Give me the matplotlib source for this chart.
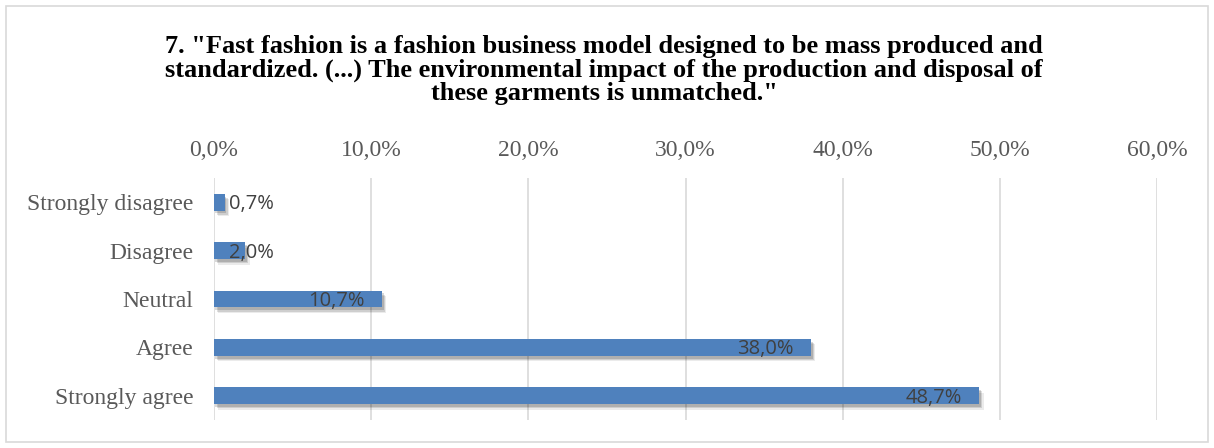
import matplotlib
matplotlib.use("Agg")
import matplotlib.pyplot as plt
import matplotlib.patheffects as pe
from matplotlib.patches import Rectangle
from matplotlib.ticker import FuncFormatter, MultipleLocator

# Survey answers, bottom to top
categories = ["Strongly agree", "Agree", "Neutral", "Disagree", "Strongly disagree"]
shares = [48.7, 38.0, 10.7, 2.0, 0.7]
title = ('7. "Fast fashion is a fashion business model designed to be mass produced and\n'
         'standardized. (...) The environmental impact of the production and disposal of\n'
         'these garments is unmatched."')

bar_color = "#4f81bd"
grid_color = "#d9d9d9"

fig = plt.figure(figsize=(12.14, 4.48), dpi=100)
fig.patch.set_facecolor("white")

# thin frame round the chart
fig.add_artist(Rectangle((6 / 1214, 6 / 448), 1202 / 1214, 436 / 448,
                         transform=fig.transFigure, fill=False,
                         edgecolor=grid_color, linewidth=1.2))

ax = fig.add_axes([214 / 1214, 1 - 420 / 448, 943 / 1214, 242 / 448])

shadow = [pe.SimplePatchShadow(offset=(3, -4), shadow_rgbFace="black", alpha=0.08),
          pe.SimplePatchShadow(offset=(2, -3), shadow_rgbFace="black", alpha=0.12),
          pe.SimplePatchShadow(offset=(1, -2), shadow_rgbFace="black", alpha=0.15),
          pe.Normal()]
bars = ax.barh(range(len(categories)), shares, height=0.35, color=bar_color,
               zorder=3)
for b in bars:
    b.set_path_effects(shadow)

ax.set_xlim(0, 60)
ax.set_ylim(-0.5, len(categories) - 0.5)
ax.xaxis.set_major_locator(MultipleLocator(10))
ax.xaxis.set_major_formatter(FuncFormatter(lambda v, _: f"{v:.1f}%".replace(".", ",")))
ax.xaxis.tick_top()
ax.set_yticks(range(len(categories)))
ax.set_yticklabels(categories)

ax.grid(axis="x", color=grid_color, linewidth=1.2, zorder=0)
for s in ax.spines.values():
    s.set_visible(False)
ax.tick_params(length=0)
ax.tick_params(axis="x", pad=12, labelsize=17, labelcolor="#595959")
ax.tick_params(axis="y", pad=15, labelsize=17, labelcolor="#595959")
for lab in ax.get_xticklabels() + ax.get_yticklabels():
    lab.set_fontfamily("Liberation Serif")

# value labels: inside the bar end, or just past the base for short bars
for i, v in enumerate(shares):
    txt = f"{v:.1f}%".replace(".", ",")
    if v < 5:
        ax.annotate(txt, (0, i), xytext=(11, -1.5), textcoords="offset points",
                    ha="left", va="center", fontsize=14.5, color="#404040",
                    family="Open Sans", zorder=4)
    else:
        ax.annotate(txt, (v, i), xytext=(-12.5, -1.5), textcoords="offset points",
                    ha="right", va="center", fontsize=14.5, color="#404040",
                    family="Open Sans", zorder=4)

fig.text(0.5 - 3 / 1214, 1 - 70 / 448, title, ha="center", va="center",
         fontsize=19, fontweight="bold", family="Liberation Serif",
         linespacing=1.02)

fig.savefig("out.png", dpi=100)
